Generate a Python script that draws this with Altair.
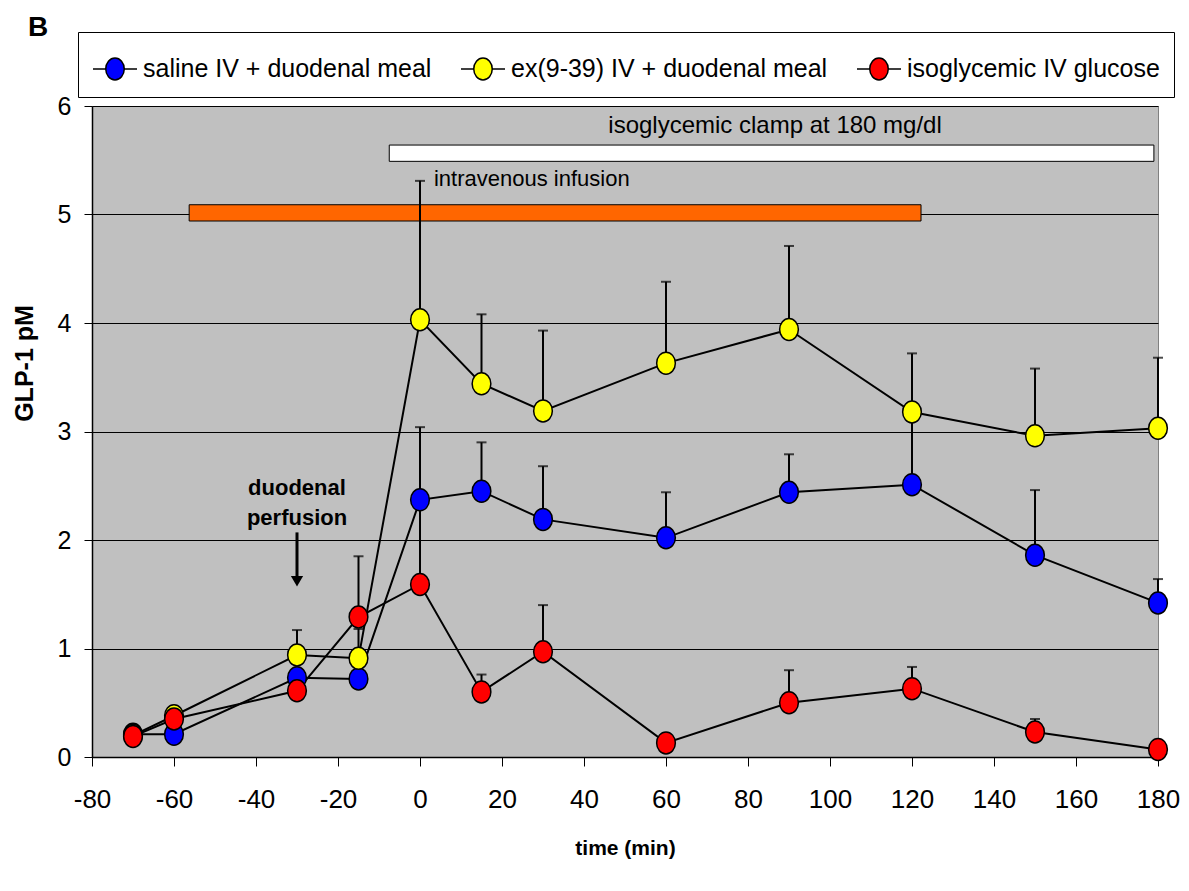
import altair as alt
import pandas as pd

# ---- data ----
times = [-70, -60, -30, -15, 0, 15, 30, 60, 90, 120, 150, 180]
series_names = ["saline IV + duodenal meal", "ex(9-39) IV + duodenal meal", "isoglycemic IV glucose"]
series_colors = ["#0000FF", "#FFFF00", "#FF0000"]

saline = [0.21, 0.21, 0.73, 0.72, 2.37, 2.45, 2.19, 2.02, 2.44, 2.51, 1.86, 1.42]
saline_err = [None, None, None, None, 3.04, 2.90, 2.68, 2.44, 2.79, 3.10, 2.46, 1.64]

exendin = [0.20, 0.38, 0.94, 0.91, 4.03, 3.44, 3.19, 3.63, 3.94, 3.18, 2.96, 3.03]
exendin_err = [None, None, 1.17, 1.18, 5.31, 4.08, 3.93, 4.38, 4.71, 3.72, 3.58, 3.68]

glucose = [0.19, 0.35, 0.61, 1.29, 1.59, 0.60, 0.97, 0.13, 0.50, 0.63, 0.23, 0.07]
glucose_err = [None, None, None, 1.85, 2.30, 0.76, 1.40, None, 0.80, 0.83, 0.35, None]

# annotation bars: [x_start, x_end, y_low, y_high]
clamp_bar = [-7.5, 179.0, 5.49, 5.64]
infusion_bar = [-56.3, 122.2, 4.94, 5.09]
clamp_label = ["isoglycemic clamp at 180 mg/dl", 86.6, 5.82]
infusion_label = ["intravenous infusion", 3.4, 5.33]
perfusion_label = [["duodenal", "perfusion"], -30, 2.48]
arrow = [-30, 2.07, 1.66, 1.62]  # x, shaft top, shaft bottom, head centre

x_ticks = list(range(-80, 181, 20))
y_ticks = list(range(0, 7))

# ---- tables ----
rows = []
for name, vals, errs in zip(series_names, [saline, exendin, glucose],
                            [saline_err, exendin_err, glucose_err]):
    for t, v, e in zip(times, vals, errs):
        rows.append({"time": t, "value": v, "series": name, "err": e,
                     "sorder": series_names.index(name)})
df = pd.DataFrame(rows)
df_err = df.dropna(subset=["err"])

bars = pd.DataFrame([
    {"time": clamp_bar[0], "x2": clamp_bar[1], "value": clamp_bar[2], "y2": clamp_bar[3], "kind": "clamp"},
    {"time": infusion_bar[0], "x2": infusion_bar[1], "value": infusion_bar[2], "y2": infusion_bar[3], "kind": "infusion"},
])

FONT = "Liberation Sans"

xscale = alt.Scale(domain=[-80, 180], nice=False, zero=False)
yscale = alt.Scale(domain=[0, 6], nice=False)

xaxis = alt.Axis(
    values=x_ticks, grid=False, labelExpr="'' + datum.value", labelFlush=False,
    labelOverlap=False, labelFont=FONT, labelFontSize=26, labelColor="black", labelPadding=20,
    tickSize=9, tickColor="black", tickWidth=1, domainColor="black", domainWidth=1.5,
    titleFont=FONT, titleFontSize=21, titleFontWeight="bold", titleColor="black",
    titleY=91, titleBaseline="middle")
yaxis = alt.Axis(
    values=y_ticks, grid=True, gridColor="black", gridWidth=1, labelFlush=False,
    labelFont=FONT, labelFontSize=25, labelColor="black", labelPadding=13,
    tickSize=8, tickColor="black", tickWidth=1, domainColor="black", domainWidth=1.5,
    titleFont=FONT, titleFontSize=25, titleFontWeight="bold", titleColor="black",
    titleX=-68, titleY=257, titleBaseline="middle", titleAngle=270)


def X(field):
    return alt.X(field, scale=xscale, axis=xaxis, title="time (min)")


def Y(field):
    return alt.Y(field, scale=yscale, axis=yaxis, title="GLP-1 pM")


base = alt.Chart(df)

bar_layer = alt.Chart(bars).mark_rect(stroke="black", strokeWidth=1).encode(
    x=X("time:Q"), x2="x2:Q",
    y=Y("value:Q"), y2="y2:Q",
    fill=alt.Fill("kind:N", scale=alt.Scale(domain=["clamp", "infusion"], range=["#FFFFFF", "#FF6600"]), legend=None),
)

lines = base.mark_line(color="black", strokeWidth=2).encode(
    x=X("time:Q"), y=Y("value:Q"), detail="series:N", order="time:Q")

err_rules = alt.Chart(df_err).mark_rule(color="black", strokeWidth=2).encode(
    x=X("time:Q"), y=Y("value:Q"), y2="err:Q")
err_caps = alt.Chart(df_err).mark_tick(color="black", orient="horizontal", size=10, thickness=2).encode(
    x=X("time:Q"), y=Y("err:Q"))

ellipse = "M0,-1A0.85,1 0 1,1 0,1A0.85,1 0 1,1 0,-1Z"
legend_symbol = ("M-1,0L-0.42,0M0.42,0L1,0"
                 "M-0.42,0A0.42,0.5 0 1,0 0.42,0A0.42,0.5 0 1,0 -0.42,0Z")

points = base.mark_point(filled=True, shape=ellipse, size=484, stroke="black",
                         strokeWidth=1.5, opacity=1).encode(
    x=X("time:Q"),
    y=Y("value:Q"),
    color=alt.Color("series:N", sort=series_names,
                    scale=alt.Scale(domain=series_names, range=series_colors),
                    legend=alt.Legend(
                        title=None, orient="none", legendX=-14, legendY=-74,
                        direction="horizontal", symbolType=legend_symbol, symbolSize=1936,
                        symbolStrokeColor="black", symbolStrokeWidth=1.5, symbolOpacity=1,
                        labelFont=FONT, labelFontSize=25, labelColor="black", labelOffset=5,
                        labelLimit=600, columnPadding=26, padding=14,
                        strokeColor="black", fillColor="white")),
    order=alt.Order("sorder:Q"),
)

clamp_text = alt.Chart(pd.DataFrame([{"label": clamp_label[0], "time": clamp_label[1], "value": clamp_label[2]}])).mark_text(
    font=FONT, fontSize=24, color="black", align="center", baseline="middle").encode(
    x=X("time:Q"), y=Y("value:Q"), text="label:N")
inf_text = alt.Chart(pd.DataFrame([{"label": infusion_label[0], "time": infusion_label[1], "value": infusion_label[2]}])).mark_text(
    font=FONT, fontSize=22, color="black", align="left", baseline="middle").encode(
    x=X("time:Q"), y=Y("value:Q"), text="label:N")
perf_text = alt.Chart(pd.DataFrame([{"time": perfusion_label[1], "value": perfusion_label[2]}])).mark_text(
    font=FONT, fontSize=22, fontWeight="bold", color="black", align="center", baseline="middle",
    lineHeight=30, text=perfusion_label[0]).encode(
    x=X("time:Q"), y=Y("value:Q"))
arrow_df = pd.DataFrame([{"time": arrow[0], "value": arrow[1], "y2": arrow[2], "yh": arrow[3]}])
arrow_shaft = alt.Chart(arrow_df).mark_rule(color="black", strokeWidth=3).encode(
    x=X("time:Q"), y=Y("value:Q"), y2="y2:Q")
arrow_head = alt.Chart(arrow_df).mark_point(shape="triangle-down", filled=True, color="black", size=150, opacity=1).encode(
    x=X("time:Q"), y=Y("yh:Q"))

panel_label = alt.Chart(pd.DataFrame([{"t": "B"}])).mark_text(
    font=FONT, fontSize=28, fontWeight="bold", color="black", align="left", baseline="middle").encode(
    x=alt.value(-64), y=alt.value(-78), text="t:N")

chart = alt.layer(
    lines, bar_layer, clamp_text, inf_text, perf_text, arrow_shaft, arrow_head,
    err_rules, err_caps, points, panel_label
).resolve_scale(fill="independent").properties(
    width=1066, height=651,
    autosize=alt.AutoSizeParams(type="none"),
    padding={"left": 84, "top": 98, "right": 23, "bottom": 126},
    background="white",
).configure_view(
    fill="#C0C0C0", stroke="#808080", strokeWidth=1
)

chart.save("out.html", embed_options={"renderer": "svg", "actions": False})
